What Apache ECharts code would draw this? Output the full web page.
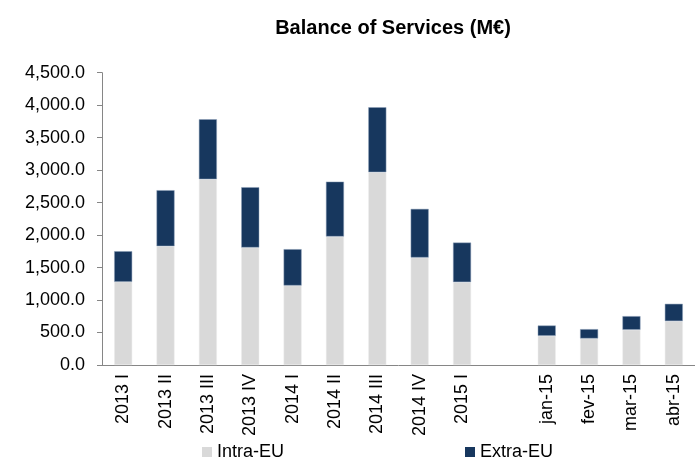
<!DOCTYPE html>
<html>
<head>
<meta charset="utf-8">
<script src="https://cdn.jsdelivr.net/npm/echarts@6/dist/echarts.min.js"></script>
<style>
  html, body { margin: 0; padding: 0; background: #fff; }
  #chart { width: 695px; height: 459px; }
</style>
</head>
<body>
<div id="chart"></div>
<script>
// categories (blank slot separates the quarters from the months)
const categories = ['2013 I', '2013 II', '2013 III', '2013 IV', '2014 I', '2014 II', '2014 III', '2014 IV', '2015 I', '', 'jan-15', 'fev-15', 'mar-15', 'abr-15'];
const intraEU = [1280, 1829, 2860, 1808, 1223, 1977, 2968, 1654, 1275, null, 449, 408, 542, 675];
const extraEU = [472, 862, 923, 929, 560, 846, 1000, 749, 610, null, 159, 144, 210, 267];

const chart = echarts.init(document.getElementById('chart'), null, { renderer: 'canvas' });

const font = 'Arial, "Liberation Sans", sans-serif';

chart.setOption({
  animation: false,
  textStyle: { fontFamily: font },
  title: {
    text: 'Balance of Services (M€)',
    left: 388,
    textAlign: 'center',
    top: 13,
    textStyle: { fontSize: 20, fontWeight: 'bold', color: '#000', fontFamily: font }
  },
  legend: {
    data: ['Intra-EU', 'Extra-EU'],
    left: 202,
    top: 443,
    padding: 0,
    itemWidth: 10,
    itemHeight: 10,
    itemGap: 181,
    icon: 'rect',
    itemStyle: { borderWidth: 0 },
    textStyle: { fontSize: 18, color: '#000', fontFamily: font }
  },
  grid: {
    left: 102,
    right: -9,
    top: 72.7,
    bottom: 94,
    containLabel: false
  },
  xAxis: {
    type: 'category',
    data: categories,
    axisLine: { lineStyle: { color: '#868686', width: 1 } },
    axisTick: { show: false },
    axisLabel: {
      rotate: 90,
      interval: 0,
      fontSize: 18,
      color: '#000',
      margin: 9
    }
  },
  yAxis: {
    type: 'value',
    min: 0,
    max: 4500,
    interval: 500,
    splitLine: { show: false },
    axisLine: { show: true, lineStyle: { color: '#868686', width: 1 } },
    axisTick: { show: true, inside: false, length: 5, lineStyle: { color: '#868686' } },
    axisLabel: {
      fontSize: 18,
      color: '#000',
      margin: 17,
      formatter: v => v.toLocaleString('en-US', { minimumFractionDigits: 1, maximumFractionDigits: 1 })
    }
  },
  series: [
    {
      name: 'Intra-EU',
      type: 'bar',
      stack: 'total',
      barWidth: 18,
      data: intraEU,
      itemStyle: { color: '#D9D9D9', borderColor: '#ECECEC', borderWidth: 0.5 }
    },
    {
      name: 'Extra-EU',
      type: 'bar',
      stack: 'total',
      barWidth: 18,
      data: extraEU,
      itemStyle: { color: '#17375E', borderColor: '#8FA0B8', borderWidth: 0.5 }
    }
  ]
});
</script>
</body>
</html>
